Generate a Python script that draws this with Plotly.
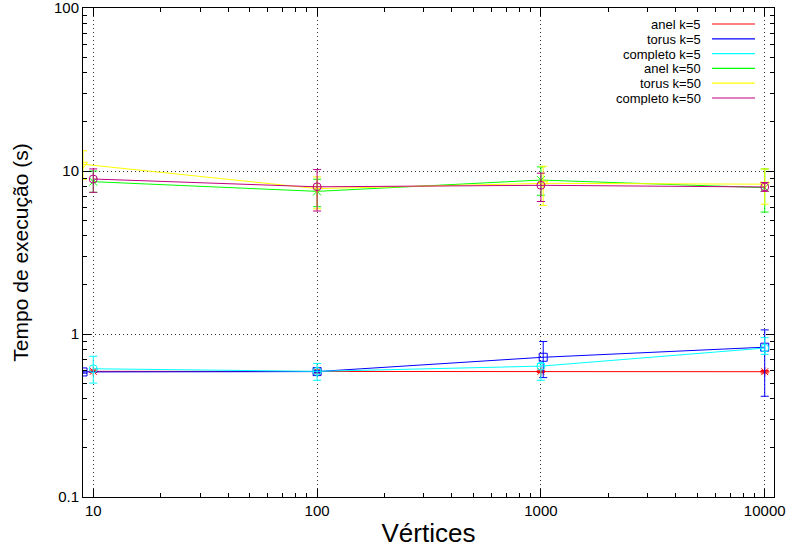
import plotly.graph_objects as go

# Vertex counts for each topology (torus sizes are square grids)
x_anel = [10, 100, 1000, 10000]
x_torus = [9, 100, 1024, 10000]
x_completo = [10, 100, 1000, 10000]

# Execution time (s): mean, lower and upper error limits
anel_k5 = [0.59, 0.59, 0.59, 0.587]
anel_k5_lo = [0.58, 0.58, 0.58, 0.577]
anel_k5_hi = [0.60, 0.60, 0.60, 0.597]

torus_k5 = [0.585, 0.588, 0.72, 0.83]
torus_k5_lo = [0.575, 0.578, 0.54, 0.415]
torus_k5_hi = [0.595, 0.598, 0.90, 1.06]

completo_k5 = [0.612, 0.59, 0.635, 0.82]
completo_k5_lo = [0.50, 0.52, 0.52, 0.75]
completo_k5_hi = [0.73, 0.66, 0.66, 0.95]

anel_k50 = [8.6, 7.5, 8.8, 7.9]
anel_k50_lo = [7.4, 6.04, 7.1, 5.6]
anel_k50_hi = [10.0, 8.9, 10.6, 10.3]

torus_k50 = [11.0, 7.8, 8.4, 8.3]
torus_k50_lo = [8.9, 5.86, 6.15, 6.25]
torus_k50_hi = [13.3, 9.2, 10.7, 10.3]

completo_k50 = [8.93, 8.0, 8.17, 7.98]
completo_k50_lo = [7.4, 5.68, 6.5, 7.5]
completo_k50_hi = [10.3, 10.2, 9.7, 8.5]

x_ticks = [10, 100, 1000, 10000]
x_tick_text = ["10", "100", "1000", "10000"]
y_ticks = [0.1, 1, 10, 100]
y_tick_text = ["0.1", "1", "10", "100"]

series = [
    ("anel k=5", x_anel, anel_k5, anel_k5_lo, anel_k5_hi, "#ff0000", "asterisk-open"),
    ("torus k=5", x_torus, torus_k5, torus_k5_lo, torus_k5_hi, "#0000ff", "square-open"),
    ("completo k=5", x_completo, completo_k5, completo_k5_lo, completo_k5_hi, "#00ffff", "circle-open"),
    ("anel k=50", x_anel, anel_k50, anel_k50_lo, anel_k50_hi, "#00ff00", "x-thin-open"),
    ("torus k=50", x_torus, torus_k50, torus_k50_lo, torus_k50_hi, "#ffff00", "triangle-down-open"),
    ("completo k=50", x_completo, completo_k50, completo_k50_lo, completo_k50_hi, "#c00080", "circle-open"),
]

FONT = "Liberation Sans, Arial, Helvetica, sans-serif"

fig = go.Figure()
for name, xs, ys, lo, hi, color, sym in series:
    fig.add_trace(go.Scatter(
        x=xs, y=ys, name=name, mode="lines+markers",
        line=dict(color=color, width=1),
        marker=dict(symbol=sym, size=8, color=color, line=dict(color=color, width=1)),
        error_y=dict(
            type="data", symmetric=False,
            array=[h - v for h, v in zip(hi, ys)],
            arrayminus=[v - l for v, l in zip(ys, lo)],
            color=color, thickness=1, width=4,
        ),
        showlegend=False,
    ))

# Key in the upper right: right-aligned labels followed by line samples
L, R, T, B = 83, 16, 8, 51
W, H = 790, 548
pw, ph = W - L - R, H - T - B
text_right = (702 - L) / pw
seg_x0 = (712 - L) / pw
seg_x1 = (755 - L) / pw
for i, (name, _, _, _, _, color, _) in enumerate(series):
    ypx = 24 + 14.8 * i
    yp = (H - B - ypx) / ph
    fig.add_annotation(
        x=text_right, y=yp, xref="paper", yref="paper", text=name,
        showarrow=False, xanchor="right", yanchor="middle",
        height=14, valign="middle", borderpad=0,
        font=dict(family=FONT, size=13, color="black"),
    )
    fig.add_shape(
        type="line", xref="paper", yref="paper",
        x0=seg_x0, x1=seg_x1, y0=yp, y1=yp,
        line=dict(color=color, width=1.2),
    )

minor_x = [v * m for v in [1, 10, 100, 1000, 10000] for m in range(2, 10)]
minor_x = [v for v in minor_x if 9 <= v <= 11000]
minor_y = [v * m for v in [0.1, 1, 10] for m in range(2, 10)]

GRID_DASH = "1px,3px"

fig.update_xaxes(
    type="log", range=[0.9542, 4.0414], automargin=False, ticklabeloverflow="allow",
    tickmode="array", tickvals=x_ticks, ticktext=x_tick_text,
    ticks="inside", ticklen=8, tickcolor="black", tickwidth=1,
    minor=dict(tickmode="array", tickvals=minor_x, ticks="inside", ticklen=4,
               tickcolor="black", showgrid=False),
    showline=True, linecolor="black", linewidth=1, mirror="allticks",
    showgrid=True, gridcolor="#333333", griddash=GRID_DASH, gridwidth=1,
    zeroline=False,
    tickfont=dict(family=FONT, size=15, color="black"),
    title=dict(text="Vértices", font=dict(family=FONT, size=26, color="black"), standoff=6),
)
fig.update_yaxes(
    type="log", range=[-1, 2], automargin=False, ticklabeloverflow="allow",
    tickmode="array", tickvals=y_ticks, ticktext=y_tick_text,
    ticks="inside", ticklen=8, tickcolor="black", tickwidth=1, ticklabelstandoff=0,
    minor=dict(tickmode="array", tickvals=minor_y, ticks="inside", ticklen=4,
               tickcolor="black", showgrid=False),
    showline=True, linecolor="black", linewidth=1, mirror="allticks",
    showgrid=True, gridcolor="#333333", griddash=GRID_DASH, gridwidth=1,
    zeroline=False,
    tickfont=dict(family=FONT, size=15, color="black"),
    title=dict(text="Tempo de execução (s)", font=dict(family=FONT, size=21, color="black"), standoff=19),
)

fig.update_layout(
    width=W, height=H,
    margin=dict(l=L, r=R, t=T, b=B),
    paper_bgcolor="white", plot_bgcolor="white",
    showlegend=False,
)

fig.write_html("out.html")
